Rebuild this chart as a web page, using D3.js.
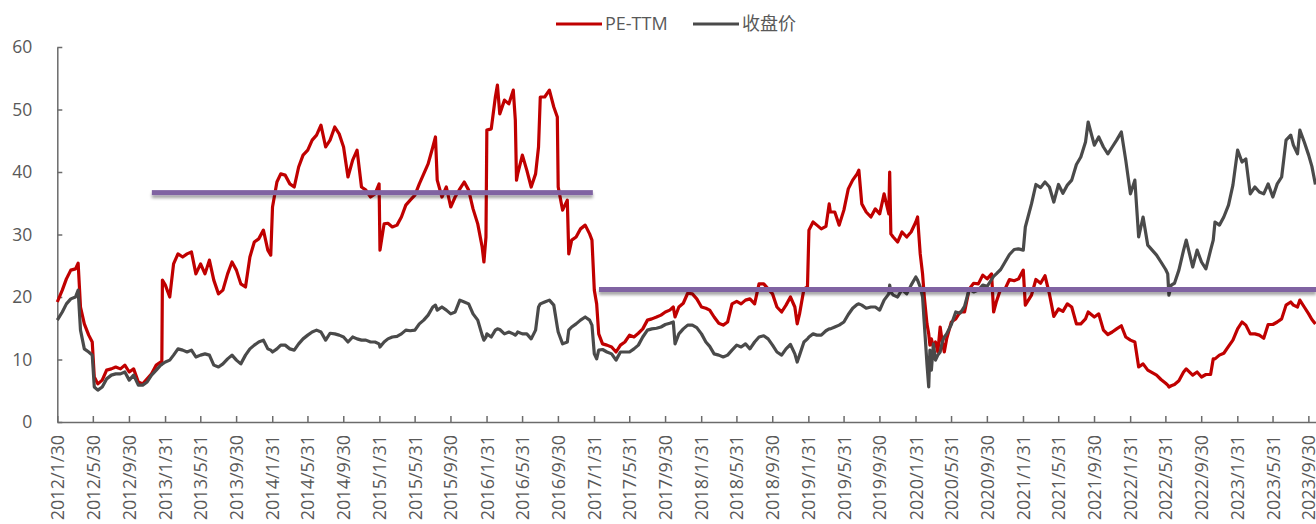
<!DOCTYPE html>
<html><head><meta charset="utf-8">
<script src="https://cdn.jsdelivr.net/npm/d3@7"></script>
<style>
body{margin:0;background:#fff;}
svg{display:block;font-family:"Open Sans","Noto Sans CJK SC",sans-serif;}
</style>
</head><body>
<svg id="chart" width="1316" height="524"></svg>
<script>
const dates = [
"2012-01-30","2012-02-16","2012-03-01","2012-03-16","2012-04-01","2012-04-10","2012-04-18","2012-05-01","2012-05-16","2012-05-28",
"2012-06-04","2012-06-16","2012-07-01","2012-07-16","2012-08-01","2012-08-16","2012-09-01","2012-09-16","2012-10-01","2012-10-16",
"2012-11-01","2012-11-16","2012-12-01","2012-12-16","2013-01-01","2013-01-16","2013-01-20","2013-01-22","2013-02-01","2013-02-16",
"2013-03-01","2013-03-16","2013-04-01","2013-04-16","2013-05-01","2013-05-16","2013-06-01","2013-06-16","2013-07-01","2013-07-16",
"2013-08-01","2013-08-16","2013-09-01","2013-09-16","2013-10-01","2013-10-16","2013-11-01","2013-11-16","2013-12-01","2013-12-16",
"2014-01-01","2014-01-16","2014-01-26","2014-02-01","2014-02-16","2014-03-01","2014-03-16","2014-04-01","2014-04-16","2014-05-01",
"2014-05-16","2014-06-01","2014-06-16","2014-07-01","2014-07-16","2014-08-01","2014-08-16","2014-09-01","2014-09-16","2014-10-01",
"2014-10-16","2014-11-01","2014-11-16","2014-12-01","2014-12-16","2015-01-01","2015-01-16","2015-01-30","2015-02-02","2015-02-16",
"2015-03-01","2015-03-16","2015-04-01","2015-04-16","2015-05-01","2015-05-16","2015-06-01","2015-06-16","2015-07-01","2015-07-16",
"2015-08-01","2015-08-10","2015-08-16","2015-09-01","2015-09-16","2015-10-01","2015-10-16","2015-11-01","2015-11-16","2015-12-01",
"2015-12-16","2016-01-01","2016-01-16","2016-01-22","2016-01-29","2016-02-01","2016-02-16","2016-03-01","2016-03-08","2016-03-16",
"2016-04-01","2016-04-16","2016-05-01","2016-05-08","2016-05-12","2016-05-16","2016-06-01","2016-06-16","2016-07-01","2016-07-16",
"2016-07-26","2016-08-01","2016-08-16","2016-09-01","2016-09-16","2016-09-28","2016-10-01","2016-10-16","2016-11-01","2016-11-06",
"2016-11-16","2016-12-01","2016-12-16","2017-01-01","2017-01-16","2017-01-24","2017-02-01","2017-02-09","2017-02-16","2017-03-01",
"2017-03-16","2017-04-01","2017-04-16","2017-05-01","2017-05-16","2017-06-01","2017-06-16","2017-07-01","2017-07-16","2017-08-01",
"2017-08-16","2017-09-01","2017-09-16","2017-10-01","2017-10-16","2017-10-28","2017-11-03","2017-11-16","2017-12-01","2017-12-16",
"2018-01-01","2018-01-16","2018-02-01","2018-02-16","2018-03-01","2018-03-16","2018-04-01","2018-04-16","2018-05-01","2018-05-16",
"2018-06-01","2018-06-16","2018-07-01","2018-07-16","2018-08-01","2018-08-16","2018-09-01","2018-09-16","2018-10-01","2018-10-16",
"2018-11-01","2018-11-16","2018-12-01","2018-12-16","2018-12-24","2019-01-01","2019-01-16","2019-01-28","2019-02-02","2019-02-16",
"2019-03-01","2019-03-16","2019-04-01","2019-04-12","2019-04-16","2019-05-01","2019-05-16","2019-06-01","2019-06-16","2019-07-01",
"2019-07-16","2019-07-22","2019-08-01","2019-08-16","2019-09-01","2019-09-16","2019-10-01","2019-10-16","2019-11-01","2019-11-04",
"2019-11-08","2019-11-16","2019-12-01","2019-12-16","2020-01-01","2020-01-16","2020-02-01","2020-02-07","2020-02-16","2020-02-24",
"2020-03-01","2020-03-10","2020-03-16","2020-03-20","2020-03-25","2020-04-01","2020-04-08","2020-04-16","2020-04-24","2020-05-01",
"2020-05-08","2020-05-16","2020-06-01","2020-06-16","2020-07-01","2020-07-16","2020-08-01","2020-08-16","2020-09-01","2020-09-16",
"2020-10-01","2020-10-16","2020-10-23","2020-11-01","2020-11-16","2020-12-01","2020-12-16","2021-01-01","2021-01-16","2021-02-01",
"2021-02-08","2021-03-01","2021-03-16","2021-04-01","2021-04-16","2021-05-01","2021-05-16","2021-06-01","2021-06-16","2021-07-01",
"2021-07-16","2021-08-01","2021-08-16","2021-09-01","2021-09-10","2021-10-01","2021-10-16","2021-11-01","2021-11-16","2021-12-01",
"2021-12-16","2022-01-01","2022-01-16","2022-02-01","2022-02-16","2022-03-01","2022-03-16","2022-04-01","2022-04-16","2022-05-01",
"2022-05-16","2022-06-01","2022-06-08","2022-06-12","2022-06-20","2022-07-01","2022-07-16","2022-08-01","2022-08-10","2022-09-01",
"2022-09-16","2022-10-01","2022-10-16","2022-11-01","2022-11-10","2022-11-16","2022-12-01","2022-12-16","2023-01-01","2023-01-16",
"2023-02-01","2023-02-16","2023-03-01","2023-03-16","2023-04-01","2023-04-16","2023-05-01","2023-05-16","2023-06-01","2023-06-16",
"2023-07-01","2023-07-16","2023-08-01","2023-08-10","2023-08-24","2023-09-01","2023-09-16","2023-10-01","2023-10-12","2023-10-24"
];
const peTTM = [
19.2,21.1,22.9,24.3,24.5,25.4,18.4,15.7,13.9,12.8,
7.2,6.1,6.7,8.3,8.5,8.8,8.5,9.1,8.0,8.5,
6.4,6.1,6.9,7.7,9.1,9.6,9.6,22.7,21.9,20.0,
25.3,26.9,26.4,26.9,27.2,23.7,25.3,23.7,25.9,22.7,
20.5,21.1,23.7,25.6,24.3,22.1,21.6,26.4,28.8,29.3,
30.7,27.5,26.7,34.4,38.4,39.7,39.5,38.1,37.6,40.8,
42.7,43.5,45.1,45.9,47.5,44.0,45.1,47.2,46.1,44.0,
39.2,41.9,43.5,37.6,37.1,36.0,36.5,38.1,27.5,31.7,
31.8,31.2,31.5,32.8,34.7,35.5,36.3,38.1,39.7,41.3,
44.0,45.6,38.7,36.0,37.6,34.4,36.0,37.3,38.4,37.1,
34.1,31.7,28.0,25.6,29.6,46.7,46.9,52.0,53.9,49.3,
51.5,50.9,53.1,48.3,38.7,39.7,42.7,40.3,37.6,39.7,
44.0,52.0,52.0,53.1,50.4,48.8,37.6,33.9,35.5,26.9,
29.1,29.6,30.9,31.5,30.1,29.1,21.1,18.9,14.1,12.5,
12.3,12.0,11.2,12.3,12.8,13.9,13.6,14.2,14.9,16.3,
16.5,16.8,17.1,17.6,17.9,18.4,16.8,18.4,19.0,20.6,
20.5,19.7,18.4,18.2,17.9,16.8,15.8,15.5,16.0,18.9,
19.3,18.9,19.5,19.7,18.9,22.1,22.1,21.3,20.5,18.4,
17.6,18.7,20.0,18.4,15.7,17.3,21.3,21.6,30.7,32.0,
31.5,30.9,31.3,34.9,33.6,33.6,31.5,33.9,37.3,38.7,
39.7,40.3,34.9,33.6,32.8,34.1,33.3,36.5,33.3,40.0,
30.1,29.6,28.8,30.4,29.6,30.4,32.0,32.8,26.9,23.7,
20.0,15.7,14.1,12.3,13.3,12.0,12.8,11.2,15.2,12.8,
11.2,13.3,16.0,16.5,17.6,17.6,21.3,22.2,22.1,23.5,
22.9,23.7,17.6,19.2,21.3,21.3,22.8,22.6,22.9,24.3,
18.7,20.3,22.8,22.2,23.4,20.5,16.9,18.1,17.7,18.9,
18.4,15.7,15.7,16.5,17.6,16.8,17.3,14.7,14.0,14.4,
14.9,15.4,13.6,13.1,12.8,8.8,9.3,8.3,7.9,7.5,
6.8,6.2,5.9,5.6,5.8,6.0,6.6,8.0,8.5,7.5,
8.0,7.2,7.6,7.6,10.1,10.1,10.7,11.0,12.1,13.1,
14.9,16.0,15.5,14.1,14.1,13.9,13.4,15.6,15.6,16.0,
16.5,18.7,19.2,18.7,18.4,19.5,18.4,17.3,16.4,15.7
];
const closePrice = [
16.3,17.6,18.9,19.7,20.0,21.1,14.7,11.7,11.2,10.7,
5.6,5.1,5.6,6.9,7.5,7.7,7.7,8.0,6.7,7.5,
5.9,5.9,6.4,7.5,8.3,9.1,9.2,9.3,9.6,9.9,
10.7,11.7,11.5,11.2,11.5,10.4,10.7,10.9,10.7,9.1,
8.8,9.3,10.1,10.7,9.9,9.3,10.7,11.7,12.3,12.8,
13.1,11.7,11.5,11.2,11.7,12.3,12.3,11.7,11.5,12.5,
13.3,13.9,14.4,14.7,14.4,13.1,14.2,14.1,13.9,13.6,
12.8,13.6,13.3,13.1,13.1,12.8,12.8,12.5,12.0,12.8,
13.3,13.6,13.7,14.1,14.7,14.6,14.7,15.7,16.3,17.1,
18.4,18.7,17.9,18.4,17.9,17.3,17.6,19.5,19.2,18.9,
17.3,16.3,13.9,13.1,13.6,14.1,13.6,14.7,14.9,14.8,
14.1,14.4,14.1,13.9,14.1,14.4,14.1,14.1,13.3,14.7,
18.4,18.9,19.2,19.5,18.7,15.2,14.4,12.5,12.8,14.7,
15.2,15.7,16.3,16.8,16.3,15.5,10.9,10.1,11.5,11.6,
11.2,10.9,9.9,11.2,11.2,11.2,11.7,12.3,13.6,14.7,
14.9,15.0,15.2,15.6,15.8,16.0,12.5,14.1,14.9,15.5,
15.5,15.1,14.1,12.8,12.1,10.9,10.7,10.4,10.7,11.5,
12.3,12.0,12.5,11.7,12.8,13.6,13.8,13.3,12.3,11.2,
10.7,11.7,12.4,10.9,9.6,10.7,12.8,13.3,13.6,14.1,
13.9,13.9,14.6,14.9,14.9,15.2,15.5,16.0,17.2,18.2,
18.8,18.9,18.7,18.2,18.4,18.4,17.9,19.5,20.5,21.9,
20.8,20.3,20.0,21.2,20.5,21.9,23.2,22.7,21.6,20.0,
15.7,9.3,5.6,11.5,8.3,12.5,9.9,10.7,11.2,12.8,
13.6,14.1,15.6,17.6,17.4,18.5,21.3,20.8,21.1,21.9,
21.7,22.8,23.3,23.7,24.4,25.6,26.8,27.6,27.7,27.5,
31.2,34.9,38.0,37.5,38.4,37.6,35.2,38.0,36.6,37.9,
38.7,41.2,42.4,44.8,48.0,44.3,45.6,44.0,42.9,44.0,
45.1,46.4,41.9,36.5,38.7,29.6,32.8,28.3,27.5,26.7,
25.6,24.4,23.7,20.3,21.9,22.2,24.3,27.5,29.1,24.8,
27.5,25.6,24.5,27.5,29.1,32.0,31.5,32.8,34.7,37.9,
43.5,41.6,42.1,36.5,37.6,36.8,36.5,38.1,36.0,38.1,
39.2,45.1,45.9,44.3,42.9,46.7,44.8,42.7,40.9,38.0
];
const tickLabels = [
"2012/1/30","2012/5/30","2012/9/30","2013/1/31","2013/5/31","2013/9/30","2014/1/31","2014/5/31","2014/9/30",
"2015/1/31","2015/5/31","2015/9/30","2016/1/31","2016/5/31","2016/9/30","2017/1/31","2017/5/31","2017/9/30",
"2018/1/31","2018/5/31","2018/9/30","2019/1/31","2019/5/31","2019/9/30","2020/1/31","2020/5/31","2020/9/30",
"2021/1/31","2021/5/31","2021/9/30","2022/1/31","2022/5/31","2022/9/30","2023/1/31","2023/5/31","2023/9/30"
];
const yTicks = [0, 10, 20, 30, 40, 50, 60];
const meanStart = ["2012-12-17", "2017-02-17"];
const meanEnd = ["2017-01-27", "2023-10-26"];
const meanValue = [36.7, 21.2];
const seriesNames = ["PE-TTM", "收盘价"];
const xDomain = ["2012-01-30", "2023-10-26"];

const parseD = d3.timeParse("%Y-%m-%d");
const parseT = d3.timeParse("%Y/%m/%d");
const svg = d3.select("#chart");
const textColor = "#595959", axisColor = "#6b6b6b";
const peColor = "#C00000", closeColor = "#4a4a4a", meanColor = "#8064A2";

const x = d3.scaleTime().domain(xDomain.map(parseD)).range([57.3, 1316]);
const y = d3.scaleLinear().domain([0, 60]).range([422, 47]);

const defs = svg.append("defs");
const f = defs.append("filter").attr("id", "shadow").attr("filterUnits", "userSpaceOnUse")
  .attr("x", 0).attr("y", 0).attr("width", 1316).attr("height", 524);
f.append("feDropShadow").attr("dx", 0).attr("dy", 3).attr("stdDeviation", 1.6)
  .attr("flood-color", "#000").attr("flood-opacity", 0.35);

// axes
const yAxis = d3.axisLeft(y).tickValues(yTicks).tickSize(-5).tickSizeOuter(0).tickPadding(25);
const gy = svg.append("g").attr("transform", `translate(${x.range()[0]},0)`).call(yAxis);
gy.select(".domain").attr("stroke", axisColor).attr("stroke-width", 1.5);
gy.selectAll(".tick line").attr("stroke", axisColor).attr("stroke-width", 1.5);
gy.selectAll(".tick text").attr("fill", textColor).style("font-size", "17.5px").style("font-family", '"Open Sans",sans-serif');

const tickDates = tickLabels.map(parseT);
const xAxis = d3.axisBottom(x).tickValues(tickDates).tickSize(-6).tickSizeOuter(0)
  .tickFormat((d, i) => tickLabels[i]);
const gx = svg.append("g").attr("transform", `translate(0,${y(0)})`).call(xAxis);
gx.select(".domain").attr("stroke", axisColor).attr("stroke-width", 1.5);
gx.selectAll(".tick line").attr("stroke", axisColor).attr("stroke-width", 1.5);
gx.selectAll(".tick text")
  .attr("fill", textColor).style("font-size", "18px").style("font-family", '"Open Sans",sans-serif')
  .attr("transform", "rotate(-90)").attr("text-anchor", "end")
  .attr("x", -13).attr("y", 0).attr("dy", "0.36em");

// series
const pts = dates.map((d, i) => ({ d: parseD(d), pe: peTTM[i], c: closePrice[i] }));
const linePE = d3.line().x(p => x(p.d)).y(p => y(p.pe));
const lineC = d3.line().x(p => x(p.d)).y(p => y(p.c));
svg.append("path").datum(pts).attr("d", linePE).attr("fill", "none")
  .attr("stroke", peColor).attr("stroke-width", 3.2).attr("stroke-linejoin", "round");
svg.append("path").datum(pts).attr("d", lineC).attr("fill", "none")
  .attr("stroke", closeColor).attr("stroke-width", 3.2).attr("stroke-linejoin", "round");

// mean lines
const means = meanValue.map((v, i) => ({ s: parseD(meanStart[i]), e: parseD(meanEnd[i]), v }));
svg.append("g").attr("filter", "url(#shadow)").selectAll("rect").data(means).join("rect")
  .attr("x", m => x(m.s)).attr("width", m => x(m.e) - x(m.s))
  .attr("y", m => y(m.v) - 2.5).attr("height", 5)
  .attr("fill", meanColor);

// legend
const leg = svg.append("g");
const legItems = [
  { name: seriesNames[0], color: peColor, x0: 556 },
  { name: seriesNames[1], color: closeColor, x0: 693 }
];
legItems.forEach(it => {
  leg.append("line").attr("x1", it.x0).attr("x2", it.x0 + 46).attr("y1", 24).attr("y2", 24)
    .attr("stroke", it.color).attr("stroke-width", 3);
  leg.append("text").attr("x", it.x0 + 49).attr("y", 24).attr("dy", "0.36em")
    .attr("fill", textColor).style("font-size", "18px").text(it.name);
});
</script>
</body></html>
